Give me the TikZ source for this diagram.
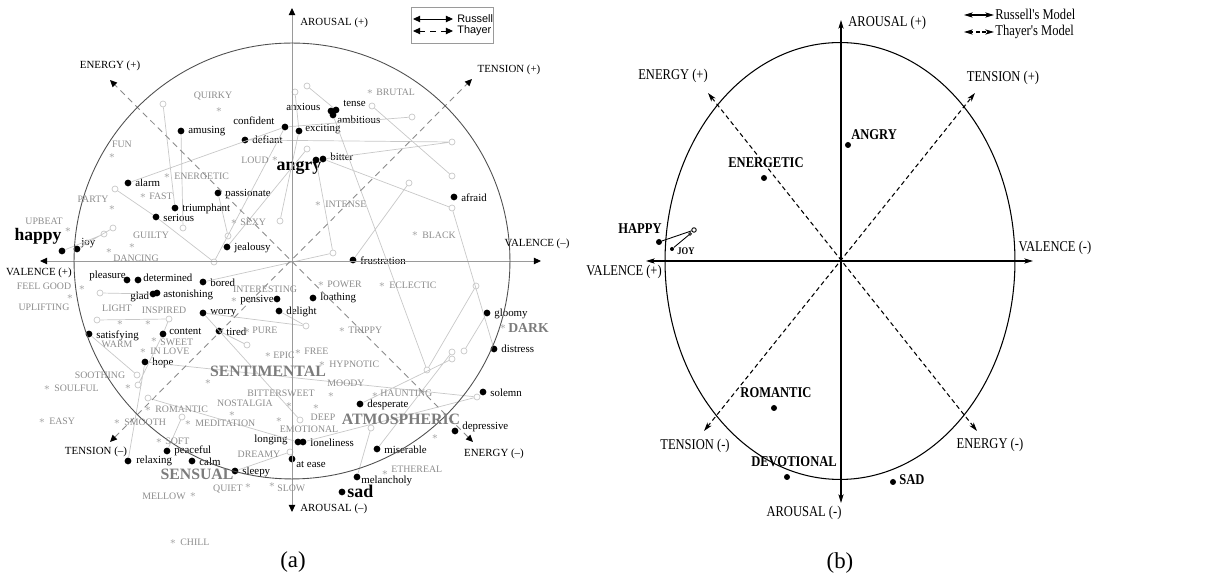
\documentclass[tikz,border=0pt]{standalone}
\usepackage{fontspec}
\setmainfont{Liberation Serif}
\newfontfamily\condfont{Liberation Serif}[FakeStretch=0.84]
\newfontfamily\legsans{Liberation Sans}
\usetikzlibrary{arrows.meta}
\definecolor{webgray}{HTML}{C8C8C8}
\definecolor{tagcol}{HTML}{8C8C8C}
\definecolor{bigtagcol}{HTML}{7C7C7C}
\definecolor{astcol}{HTML}{A0A0A0}
\definecolor{axisgray}{HTML}{9A9A9A}
\definecolor{diaggray}{HTML}{8A8A8A}
\definecolor{ringgray}{HTML}{505050}

\begin{document}
\begin{tikzpicture}[x=0.02cm,y=-0.02cm,
  dot/.style={circle,fill=black,inner sep=0pt,minimum size=0.135cm},
  odot/.style={circle,draw=webgray,line width=0.4pt,inner sep=0pt,minimum size=0.12cm},
  web/.style={draw=webgray,line width=0.4pt},
  lbl/.style={font=\fontsize{6.2}{7}\selectfont,inner sep=0pt,anchor=west},
  axlbl/.style={font=\fontsize{6.2}{7}\selectfont,inner sep=0pt},
  tag/.style={font=\fontsize{5.6}{6.5}\selectfont,text=tagcol,inner sep=0pt},
  bigtag/.style={font=\bfseries\fontsize{9}{10}\selectfont,text=bigtagcol,inner sep=0pt},
  ast/.style={font=\fontsize{6}{6}\selectfont,text=astcol,inner sep=0pt},
  tipA/.style={{Triangle[length=4pt,width=3.6pt,black]}-{Triangle[length=4pt,width=3.6pt,black]}},
  axisA/.style={draw=axisgray,line width=0.5pt,tipA},
  diagA/.style={draw=diaggray,line width=0.5pt,dash pattern=on 3.5pt off 2.5pt,tipA},
  tipB/.style={{Stealth[length=5pt,width=3pt,inset=1.4pt]}-{Stealth[length=5pt,width=3pt,inset=1.4pt]}},
  axisB/.style={draw=black,line width=0.6pt,tipB},
  diagB/.style={draw=black,line width=0.6pt,dash pattern=on 2.5pt off 1.8pt,tipB},
  bdot/.style={circle,fill=black,inner sep=0pt,minimum size=0.12cm},
  blbl/.style={font=\condfont\fontsize{8.5}{10}\selectfont,inner sep=0pt},
  bbold/.style={font=\condfont\bfseries\fontsize{8.5}{10}\selectfont,inner sep=0pt},
]
\path[use as bounding box] (0,0) rectangle (1232,580);

%================ (a) =================
% open circles of the mapping web
\foreach \n/\x/\y in {1/163/104, 2/183/228, 3/115/189, 4/214/262, 5/307/149,
  6/280/221, 7/228/236, 8/452/142, 9/412/117, 10/307/86, 11/295/92,
  13/372/106, 14/452/176, 16/333/253, 17/452/208, 19/409/183, 22/476/286,
  23/427/370, 24/464/351, 25/452/352, 26/452/359, 27/477/397, 29/371/428,
  30/290/452, 33/300/420, 35/148/398, 36/182/417, 37/137/375, 38/138/385,
  39/247/345, 40/306/326, 42/169/319, 43/104/234, 44/113/228, 45/100/293,
  47/97/320}
  {\node[odot] (o\n) at (\x,\y) {};}

% emotion points
\foreach \n/\px/\py/\lx/\ly/\t in {
 amusing/181/131/188/131/amusing,
 confident/285/127/233/121/confident,
 exciting/299/131/305/129/exciting,
 defiant/245/140/252/140/defiant,
 alarm/128/183/135/183/alarm,
 passionate/218/193/225/194/passionate,
 triumphant/175/208/182/209/triumphant,
 serious/156/217/163/218/serious,
 jealousy/227/247/234/248/jealousy,
 joy/77/249/81/243/joy,
 pleasure/127/280/89/276/pleasure,
 determined/138/280/143/278/determined,
 bored/203/282/210/283/bored,
 worry/203/313/210/313/worry,
 satisfying/89/334/96/336/satisfying,
 content/163/334/169/331/content,
 tired/219/331/226/332/tired,
 hope/145/362/152/363/hope,
 pensive/277/299/240/300/pensive,
 delight/279/311/286/312/delight,
 loathing/313/298/320/298/loathing,
 frustration/353/260/360/261/frustration,
 afraid/454/197/461/198/afraid,
 gloomy/487/313/494/314/gloomy,
 distress/494/349/501/349/distress,
 relaxing/128/461/136/461/relaxing,
 peaceful/167/451/174/451/peaceful,
 calm/192/461/199/462/calm,
 sleepy/235/471/242/472/sleepy,
 solemn/483/392/490/393/solemn,
 desperate/360/404/367/405/desperate,
 depressive/455/431/462/427/depressive,
 miserable/377/449/384/450/miserable,
 atease/292/459/296/464/at ease,
 melancholy/357/477/361/481/melancholy}
 {\node[dot] (d-\n) at (\px,\py) {};
  \node[lbl] (t-\n) at (\lx,\ly) {\t};}

% clustered points
\node[dot] (d-anx1) at (331,111) {};
\node[dot] (d-anx2) at (336,110) {};
\node[dot] (d-anx3) at (333,115) {};
\node[lbl] (t-anxious) at (286,107) {anxious};
\node[lbl] (t-tense) at (343,103) {tense};
\node[lbl] (t-ambitious) at (337,120) {ambitious};
\node[dot] (d-angry1) at (316,160) {};
\node[dot] (d-bitter) at (323,159) {};
\node[lbl] (t-bitter) at (330,157) {bitter};
\node[inner sep=0pt,font=\bfseries\fontsize{10.2}{11}\selectfont] (t-angry) at (299,168) {angry};
\node[dot] (d-happy) at (62,251) {};
\node[inner sep=0pt,font=\bfseries\fontsize{10}{11}\selectfont] (t-happy) at (38,236) {happy};
\node[dot] (d-glad1) at (153,294) {};
\node[dot] (d-glad2) at (157,293) {};
\node[lbl] (t-glad) at (130,297) {glad};
\node[lbl] (t-astonishing) at (163,295) {astonishing};
\node[dot] (d-long1) at (298,442) {};
\node[dot] (d-lone2) at (303,442) {};
\node[lbl] (t-longing) at (254,440) {longing};
\node[lbl] (t-loneliness) at (310,443) {loneliness};
\node[dot] (d-sad) at (342,492) {};
\node[inner sep=0pt,anchor=west,font=\bfseries\fontsize{10.2}{11}\selectfont] (t-sad) at (347,491) {sad};

% web connectors
\path[web] (d-triumphant) -- (o1) (d-amusing) -- (o2) (d-alarm) -- (d-confident)
  (o3) -- (d-serious) -- (o4) (d-confident) -- (o4) (d-jealousy) -- (o5)
  (d-exciting) -- (o6) (d-passionate) -- (o7) (d-defiant) -- (o8)
  (d-bitter) -- (o8) (d-confident) -- (o9) (d-anx2) -- (o10)
  (d-exciting) -- (o11) (o13) -- (o14) (d-bored) -- (o16) (d-angry1) -- (o16)
  (d-bitter) -- (o17) (o17) -- (d-distress) (d-frustration) -- (o19)
  (o22) -- (o23) (d-anx3) -- (o23) (d-gloomy) -- (o24) (d-miserable) -- (o25)
  (d-desperate) -- (o26) (d-hope) -- (o27) (d-lone2) -- (o27)
  (o29) -- (d-melancholy) (d-sleepy) -- (o30) (d-atease) -- (o30)
  (d-worry) -- (o33) (o35) -- (d-long1) (d-hope) -- (d-relaxing)
  (d-peaceful) -- (o36) (d-satisfying) -- (o37) (d-content) -- (o38)
  (d-tired) -- (o39) (d-worry) -- (o40) (d-delight) -- (o40)
  (d-content) -- (o42) (d-happy) -- (o43) (d-joy) -- (o44)
  (o45) -- (d-glad1) (o47) -- (o42);

% axes of panel (a)
\coordinate (aT) at (292,8);
\coordinate (aB) at (292,512);
\coordinate (aL) at (40,261);
\coordinate (aR) at (541,261);
\coordinate (aE1) at (110,80);
\coordinate (aE2) at (473,442);
\coordinate (aT1) at (472,79);
\coordinate (aT2) at (110,442);
\draw[axisA] (aB) -- (aT);
\draw[axisA] (aL) -- (aR);
\draw[diagA] (aE2) -- (aE1);
\draw[diagA] (aT2) -- (aT1);
\draw[ringgray,line width=0.5pt] (292,261) ellipse [x radius=4.36cm, y radius=4.36cm];

\node[axlbl,anchor=west] (l-arp) at (300,23) {AROUSAL (+)};
\node[axlbl,anchor=west] (l-arm) at (300,509) {AROUSAL (--)};
\node[axlbl] (l-vm) at (537,244) {VALENCE (--)};
\node[axlbl] (l-vp) at (39,273) {VALENCE (+)};
\node[axlbl] (l-ep) at (110,66) {ENERGY (+)};
\node[axlbl] (l-tp) at (509,70) {TENSION (+)};
\node[axlbl] (l-tm) at (96,452) {TENSION (--)};
\node[axlbl] (l-em) at (494,454) {ENERGY (--)};

% legend of panel (a)
\draw[axisgray,line width=0.4pt] (411,7) rectangle (493,43);
\coordinate (ra1) at (413,19); \coordinate (ra2) at (453,19);
\coordinate (ta1) at (413,31); \coordinate (ta2) at (453,31);
\draw[black,line width=0.5pt,tipA] (ra1) -- (ra2);
\draw[black,line width=0.5pt,dash pattern=on 3pt off 3pt,tipA] (ta1) -- (ta2);
\node[inner sep=0pt,anchor=west,font=\legsans\fontsize{6.2}{7}\selectfont] (lg-r) at (457,19) {Russell};
\node[inner sep=0pt,anchor=west,font=\legsans\fontsize{6.2}{7}\selectfont] (lg-t) at (457,31) {Thayer};

% tag asterisks
\foreach \n/\x/\y in {quirky/219/110, brutal/370/92, fun/112/156, loud/275/159,
  energetic/167/176, party/112/208, fast/143/196, upbeat/68/230, sexy/234/222,
  guiltyA/132/246, guiltyB/109/251, feelgood/82/288, uplifting/70/297,
  light/120/323, inspired/148/323, interesting/234/300, pure/247/331,
  sweet/154/340, inlove/143/351, intense/318/204, black/415/234, power/321/284,
  eclectic/382/285, trippy/342/330, dark/503/327, epic/268/355, free/298/352,
  hypnotic/322/364, soothing/128/387, soulful/47/388, easy/42/421,
  sentimental/208/382, romantic/148/409, nostalgia/232/414, smooth/117/422,
  meditation/188/423, soft/159/441, quiet/248/486, slow/272/485,
  mellow/193/495, chill/173/542, moody/331/395, bittersweet/289/405,
  haunting/375/395, deep/316/407, emotional/279/420, ethereal/385/473,
  atmo/435/437}
  {\node[ast] (s-\n) at (\x,\y) {$\ast$};}

% tag labels
\foreach \n/\x/\y/\a/\t in {
 quirky/213/96/center/QUIRKY,
 brutal/376/92/west/BRUTAL,
 fun/122/144/center/FUN,
 loud/269/160/east/LOUD,
 energetic/174/176/west/ENERGETIC,
 party/93/199/center/PARTY,
 fast/149/196/west/FAST,
 upbeat/44/221/center/UPBEAT,
 sexy/240/222/west/SEXY,
 guilty/151/235/center/GUILTY,
 dancing/136/258/center/DANCING,
 feelgood/44/286/center/FEEL GOOD,
 uplifting/44/307/center/UPLIFTING,
 light/117/308/center/LIGHT,
 inspired/164/310/center/INSPIRED,
 interesting/265/289/center/INTERESTING,
 pure/252/330/west/PURE,
 warm/117/344/center/WARM,
 sweet/160/342/west/SWEET,
 inlove/150/351/west/IN LOVE,
 intense/325/204/west/INTENSE,
 black/422/235/west/BLACK,
 power/327/284/west/POWER,
 eclectic/389/285/west/ECLECTIC,
 trippy/348/330/west/TRIPPY,
 epic/273/355/west/EPIC,
 free/304/351/west/FREE,
 hypnotic/329/364/west/HYPNOTIC,
 soothing/100/375/center/SOOTHING,
 soulful/54/388/west/SOULFUL,
 easy/49/421/west/EASY,
 romantic/155/409/west/ROMANTIC,
 nostalgia/245/403/center/NOSTALGIA,
 smooth/124/422/west/SMOOTH,
 meditation/195/423/west/MEDITATION,
 soft/165/441/west/SOFT,
 dreamy/259/454/center/DREAMY,
 quiet/228/489/center/QUIET,
 slow/277/488/west/SLOW,
 mellow/164/496/center/MELLOW,
 chill/180/542/west/CHILL,
 moody/346/383/center/MOODY,
 bittersweet/281/393/center/BITTERSWEET,
 haunting/380/393/west/HAUNTING,
 deep/323/417/center/DEEP,
 emotional/309/429/center/EMOTIONAL,
 ethereal/391/469/west/ETHEREAL}
 {\node[tag,anchor=\a] (g-\n) at (\x,\y) {\t};}

\node[bigtag] (g-sentimental) at (268,371) {SENTIMENTAL};
\node[bigtag] (g-sensual) at (197,474) {SENSUAL};
\node[bigtag] (g-atmospheric) at (401,419) {ATMOSPHERIC};
\node[bigtag,anchor=west,font=\bfseries\fontsize{7.8}{9}\selectfont] (g-dark) at (508,328) {DARK};

\node[inner sep=0pt,font=\fontsize{13}{15}\selectfont] (cap-a) at (293,562) {(a)};

%================ (b) =================
\coordinate (bT) at (841,20);
\coordinate (bB) at (841,503);
\coordinate (bL) at (646,261);
\coordinate (bR) at (1033,261);
\coordinate (bE1) at (708,93);
\coordinate (bE2) at (977,431);
\coordinate (bT1) at (975,93);
\coordinate (bT2) at (704,431);
\draw[black,line width=0.6pt] (840,261) ellipse [x radius=3.5cm, y radius=4.37cm];
\draw[axisB] (bB) -- (bT);
\draw[axisB] (bL) -- (bR);
\draw[diagB] (bE2) -- (bE1);
\draw[diagB] (bT2) -- (bT1);

\node[blbl,anchor=west] (m-arp) at (848,23) {AROUSAL (+)};
\node[blbl] (m-arm) at (804,513) {AROUSAL (-)};
\node[blbl] (m-vp) at (624,272) {VALENCE (+)};
\node[blbl] (m-vm) at (1055,248) {VALENCE (-)};
\node[blbl] (m-ep) at (673,76) {ENERGY (+)};
\node[blbl] (m-tp) at (1003,78) {TENSION (+)};
\node[blbl] (m-tm) at (695,446) {TENSION (-)};
\node[blbl] (m-em) at (990,445) {ENERGY (-)};

% legend of panel (b)
\coordinate (rb1) at (964,15); \coordinate (rb2) at (994,15);
\coordinate (tb1) at (964,32); \coordinate (tb2) at (994,32);
\draw[black,line width=0.6pt,tipB] (rb1) -- (rb2);
\draw[black,line width=0.6pt,dash pattern=on 2pt off 1.5pt,tipB] (tb1) -- (tb2);
\node[blbl,anchor=west] (mg-r) at (995,14) {Russell's Model};
\node[blbl,anchor=west] (mg-t) at (995,32) {Thayer's Model};

% mood points of panel (b)
\node[bdot] (b-angry) at (848,145) {};
\node[bbold,anchor=west] (bl-angry) at (851,135) {ANGRY};
\node[bdot] (b-energetic) at (764,178) {};
\node[bbold] (bl-energetic) at (766,163) {ENERGETIC};
\node[bdot] (b-happy) at (659,242) {};
\node[bbold] (bl-happy) at (640,229) {HAPPY};
\node[bdot,minimum size=0.08cm] (b-joy) at (672,249) {};
\node[bbold,anchor=west,font=\condfont\bfseries\fontsize{5.8}{7}\selectfont] (bl-joy) at (677,251) {JOY};
\node[circle,draw=black,line width=0.5pt,fill=white,inner sep=0pt,minimum size=0.09cm] (bo-1) at (694,230) {};
\node[circle,draw=black,line width=0.5pt,fill=white,inner sep=0pt,minimum size=0.055cm] (bo-2) at (690,234) {};
\draw[black,line width=0.5pt] (b-happy) -- (bo-1);
\draw[black,line width=0.5pt] (b-joy) -- (bo-2);
\node[bdot] (b-romantic) at (774,408) {};
\node[bbold] (bl-romantic) at (776,393) {ROMANTIC};
\node[bdot] (b-devotional) at (787,477) {};
\node[bbold] (bl-devotional) at (794,462) {DEVOTIONAL};
\node[bdot] (b-sad) at (893,482) {};
\node[bbold,anchor=west] (bl-sad) at (899,480) {SAD};

\node[inner sep=0pt,font=\fontsize{13}{15}\selectfont] (cap-b) at (840,563) {(b)};
\end{tikzpicture}
\end{document}
